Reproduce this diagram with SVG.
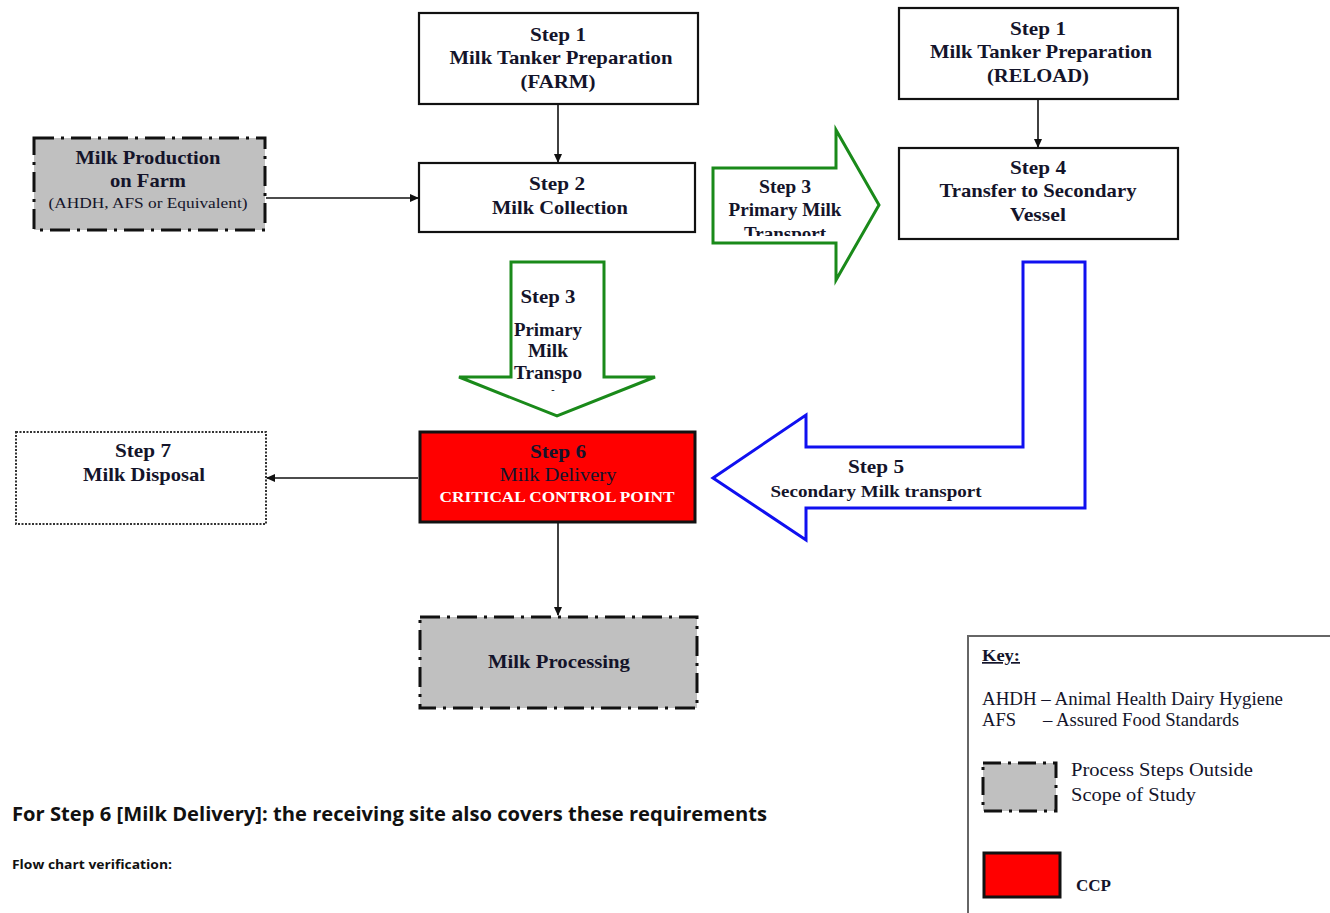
<svg xmlns="http://www.w3.org/2000/svg" width="1330" height="913" viewBox="0 0 1330 913">
<style>
.t{font-family:"Liberation Serif","Times New Roman",serif;fill:#14142a;text-anchor:middle}
.b{font-weight:bold}
.s{text-anchor:start}
.box{fill:#fff;stroke:#111;stroke-width:2.2}
.out{fill:#c0c0c0;stroke:#111;stroke-width:3;stroke-dasharray:20 7 3 7}
.conn{stroke:#111;stroke-width:1.6;fill:none}
.cal{font-family:"Open Sans","Liberation Sans",sans-serif;fill:#111;font-weight:bold}
</style>
<defs>
<marker id="ah" markerWidth="10" markerHeight="10" refX="8" refY="5" orient="auto" markerUnits="userSpaceOnUse">
<path d="M0,1 L9,5 L0,9 Z" fill="#111"/>
</marker>
<clipPath id="clipG"><rect x="700" y="120" width="200" height="116"/></clipPath>
</defs>

<g id="connectors">
<line class="conn" x1="558" y1="104" x2="558" y2="162" marker-end="url(#ah)"/>
<line class="conn" x1="1038" y1="99" x2="1038" y2="147" marker-end="url(#ah)"/>
<line class="conn" x1="266" y1="198" x2="418" y2="198" marker-end="url(#ah)"/>
<line class="conn" x1="418" y1="478" x2="267" y2="478" marker-end="url(#ah)"/>
<line class="conn" x1="558" y1="523" x2="558" y2="615" marker-end="url(#ah)"/>
</g>

<g id="step1-farm">
<rect class="box" x="419" y="13" width="279" height="91"/>
<text class="t b" x="558" y="41" font-size="19" textLength="56" lengthAdjust="spacingAndGlyphs">Step 1</text>
<text class="t b" x="561" y="64" font-size="19" textLength="223" lengthAdjust="spacingAndGlyphs">Milk Tanker Preparation</text>
<text class="t b" x="558" y="88" font-size="19" textLength="75" lengthAdjust="spacingAndGlyphs">(FARM)</text>
</g>

<g id="step1-reload">
<rect class="box" x="899" y="8" width="279" height="91"/>
<text class="t b" x="1038" y="35" font-size="19" textLength="56" lengthAdjust="spacingAndGlyphs">Step 1</text>
<text class="t b" x="1041" y="58" font-size="19" textLength="222" lengthAdjust="spacingAndGlyphs">Milk Tanker Preparation</text>
<text class="t b" x="1038" y="82" font-size="19" textLength="102" lengthAdjust="spacingAndGlyphs">(RELOAD)</text>
</g>

<g id="milk-production">
<rect class="out" x="34" y="138" width="231" height="92"/>
<text class="t b" x="148" y="164" font-size="19" textLength="145" lengthAdjust="spacingAndGlyphs">Milk Production</text>
<text class="t b" x="148" y="187" font-size="19" textLength="76" lengthAdjust="spacingAndGlyphs">on Farm</text>
<text class="t" x="148" y="208" font-size="15" textLength="199" lengthAdjust="spacingAndGlyphs">(AHDH, AFS or Equivalent)</text>
</g>

<g id="step2">
<rect class="box" x="419" y="163" width="276" height="69"/>
<text class="t b" x="557" y="190" font-size="19" textLength="56" lengthAdjust="spacingAndGlyphs">Step 2</text>
<text class="t b" x="560" y="214" font-size="19" textLength="136" lengthAdjust="spacingAndGlyphs">Milk Collection</text>
</g>

<g id="step3-right">
<path d="M713,168 L836,168 L836,130 L879,205 L836,280 L836,243 L713,243 Z" fill="#fff" stroke="#1a8a1a" stroke-width="3" stroke-linejoin="miter"/>
<g clip-path="url(#clipG)">
<text class="t b" x="785" y="193" font-size="18" textLength="52" lengthAdjust="spacingAndGlyphs">Step 3</text>
<text class="t b" x="785" y="216" font-size="18" textLength="113" lengthAdjust="spacingAndGlyphs">Primary Milk</text>
<text class="t b" x="785" y="240" font-size="18" textLength="82" lengthAdjust="spacingAndGlyphs">Transport</text>
</g>
</g>

<g id="step4">
<rect class="box" x="899" y="148" width="279" height="91"/>
<text class="t b" x="1038" y="174" font-size="19" textLength="56" lengthAdjust="spacingAndGlyphs">Step 4</text>
<text class="t b" x="1038" y="197" font-size="19" textLength="197" lengthAdjust="spacingAndGlyphs">Transfer to Secondary</text>
<text class="t b" x="1038" y="221" font-size="19" textLength="56" lengthAdjust="spacingAndGlyphs">Vessel</text>
</g>

<g id="step3-down">
<path d="M511,262 L604,262 L604,377 L655,377 L557,416 L459,377 L511,377 Z" fill="#fff" stroke="#1a8a1a" stroke-width="3"/>
<text class="t b" x="548" y="303" font-size="18" textLength="55" lengthAdjust="spacingAndGlyphs">Step 3</text>
<text class="t b" x="548" y="336" font-size="18" textLength="68" lengthAdjust="spacingAndGlyphs">Primary</text>
<text class="t b" x="548" y="357" font-size="18" textLength="40" lengthAdjust="spacingAndGlyphs">Milk</text>
<text class="t b" x="548" y="379" font-size="18" textLength="68" lengthAdjust="spacingAndGlyphs">Transpo</text>
<text class="t b" x="553" y="393" font-size="10">-</text>
</g>

<g id="step5">
<path d="M1085,262 L1085,508 L806,508 L806,540 L713,478 L806,415 L806,447 L1023,447 L1023,262 Z" fill="#fff" stroke="#1010f0" stroke-width="3"/>
<text class="t b" x="876" y="473" font-size="18" textLength="56" lengthAdjust="spacingAndGlyphs">Step 5</text>
<text class="t b" x="876" y="497" font-size="17" textLength="211" lengthAdjust="spacingAndGlyphs">Secondary Milk transport</text>
</g>

<g id="step6">
<rect x="420" y="432" width="275" height="90" fill="#ff0000" stroke="#111" stroke-width="3"/>
<text class="t b" x="558" y="458" font-size="19" textLength="56" lengthAdjust="spacingAndGlyphs">Step 6</text>
<text class="t" x="558" y="481" font-size="19" textLength="117" lengthAdjust="spacingAndGlyphs">Milk Delivery</text>
<text class="t b" x="557" y="502" font-size="15" textLength="235" lengthAdjust="spacingAndGlyphs" style="fill:#fff">CRITICAL CONTROL POINT</text>
</g>

<g id="step7">
<rect x="16" y="432" width="250" height="92" fill="#fff" stroke="#333" stroke-width="2" stroke-dasharray="2 1.5"/>
<text class="t b" x="143" y="457" font-size="19" textLength="56" lengthAdjust="spacingAndGlyphs">Step 7</text>
<text class="t b" x="144" y="481" font-size="19" textLength="122" lengthAdjust="spacingAndGlyphs">Milk Disposal</text>
</g>

<g id="milk-processing">
<rect class="out" x="420" y="617" width="277" height="91"/>
<text class="t b" x="559" y="668" font-size="19" textLength="142" lengthAdjust="spacingAndGlyphs">Milk Processing</text>
</g>

<g id="key">
<rect x="968" y="636" width="380" height="300" fill="#fff" stroke="#666" stroke-width="2"/>
<text class="t b s" x="982" y="661" font-size="17" textLength="38" lengthAdjust="spacingAndGlyphs" style="text-decoration:underline">Key:</text>
<text class="t s" x="982" y="705" font-size="18" textLength="301" lengthAdjust="spacingAndGlyphs">AHDH – Animal Health Dairy Hygiene</text>
<text class="t s" x="982" y="726" font-size="18" textLength="34" lengthAdjust="spacingAndGlyphs">AFS</text>
<text class="t s" x="1043" y="726" font-size="18" textLength="196" lengthAdjust="spacingAndGlyphs">– Assured Food Standards</text>
<rect x="983" y="763" width="73" height="48" fill="#c0c0c0" stroke="#111" stroke-width="3" stroke-dasharray="18 7 3 7"/>
<text class="t s" x="1071" y="776" font-size="19" textLength="182" lengthAdjust="spacingAndGlyphs">Process Steps Outside</text>
<text class="t s" x="1071" y="801" font-size="19" textLength="125" lengthAdjust="spacingAndGlyphs">Scope of Study</text>
<rect x="984" y="853" width="76" height="44" fill="#ff0000" stroke="#111" stroke-width="3"/>
<text class="t b s" x="1076" y="891" font-size="16" textLength="35" lengthAdjust="spacingAndGlyphs">CCP</text>
</g>

<g id="notes">
<text class="cal" x="12" y="821" font-size="19" textLength="755" lengthAdjust="spacingAndGlyphs">For Step 6 [Milk Delivery]: the receiving site also covers these requirements</text>
<text class="cal" x="12" y="869" font-size="12.5" textLength="160" lengthAdjust="spacingAndGlyphs">Flow chart verification:</text>
</g>
</svg>
